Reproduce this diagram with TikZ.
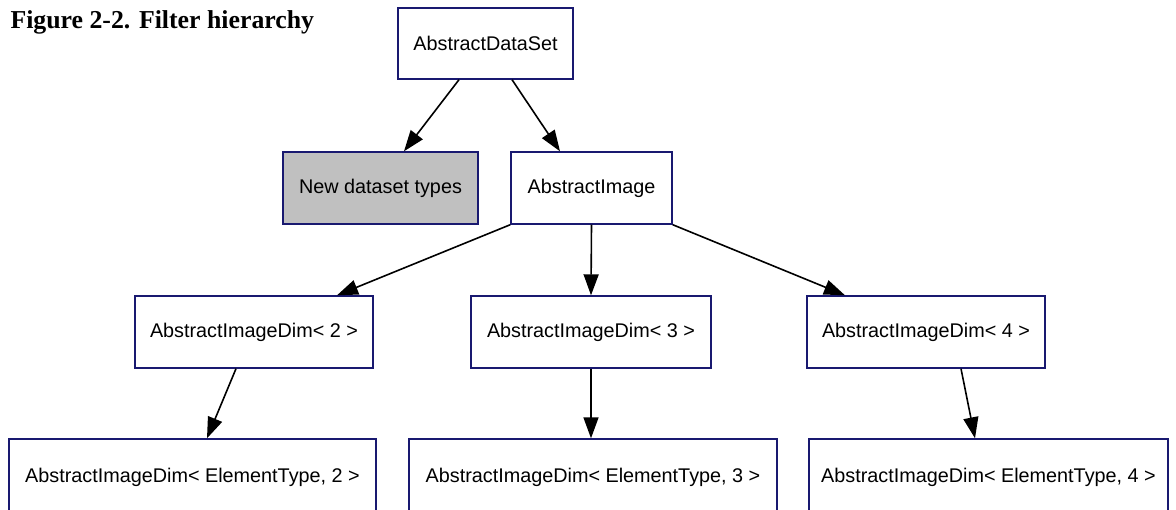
\documentclass[tikz,border=0pt]{standalone}
\usepackage{fontspec}
\setmainfont{Liberation Sans}
\newfontfamily\titlefont{Liberation Serif}
\usetikzlibrary{arrows.meta,calc}
\definecolor{edgeblue}{HTML}{191970}
\definecolor{boxgray}{HTML}{C0C0C0}
\begin{document}
\begin{tikzpicture}[x=1pt,y=-1pt,
  box/.style={draw=edgeblue, line width=1.4pt, fill=white, rectangle, inner sep=0pt,
    font=\fontsize{19.8}{23}\selectfont, text=black},
  grayfill/.style={fill=boxgray},
  link/.style={draw=black, line width=1.6pt, -{Triangle[length=21pt,width=15pt]}}
]
\useasboundingbox (0,0) rectangle (1176,510);
\node[anchor=base west, font=\titlefont\bfseries\fontsize{25.8}{30}\selectfont] (title) at (7,29) {Figure 2-2. Filter hierarchy};

\node[box, minimum width=175pt, minimum height=71pt] (ads) at (485.5,43.5) {AbstractDataSet};
\node[box, grayfill, minimum width=195pt, minimum height=72pt] (new) at (380.5,188) {New dataset types};
\node[box, minimum width=161pt, minimum height=72pt] (ai) at (591.5,188) {AbstractImage};
\node[box, minimum width=238pt, minimum height=72pt] (d2) at (254,332) {AbstractImageDim< 2 >};
\node[box, minimum width=240pt, minimum height=72pt] (d3) at (591,332) {AbstractImageDim< 3 >};
\node[box, minimum width=238pt, minimum height=72pt] (d4) at (926,332) {AbstractImageDim< 4 >};
\node[box, minimum width=367pt, minimum height=76pt] (e2) at (192.5,477) {AbstractImageDim< ElementType, 2 >};
\node[box, minimum width=368pt, minimum height=76pt] (e3) at (593,477) {AbstractImageDim< ElementType, 3 >};
\node[box, minimum width=359pt, minimum height=76pt] (e4) at (988.5,477) {AbstractImageDim< ElementType, 4 >};

\draw[link] ([xshift=-26.5pt]ads.south) -- ([xshift=23.5pt]new.north);
\draw[link] ([xshift=26.5pt]ads.south) -- ([xshift=-31.5pt]ai.north);
\draw[link] (ai.south west) -- ([xshift=83pt]d2.north);
\draw[link] (ai.south) -- (d3.north);
\draw[link] (ai.south east) -- ([xshift=-81pt]d4.north);
\draw[link] ([xshift=-18pt]d2.south) -- ([xshift=14.5pt]e2.north);
\draw[link] (d3.south) -- ([xshift=-2pt]e3.north);
\draw[link] ([xshift=35pt]d4.south) -- ([xshift=-13.5pt]e4.north);
\end{tikzpicture}
\end{document}
